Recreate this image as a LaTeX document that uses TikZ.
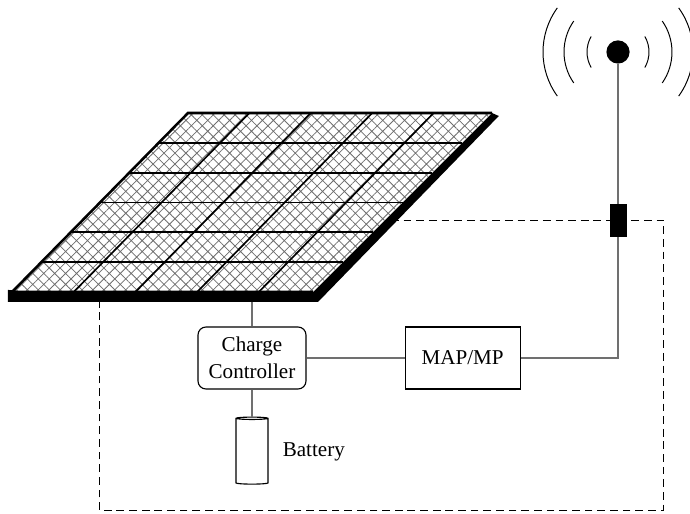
\documentclass[tikz,border=0pt]{standalone}
\usepackage{fontspec}
\setmainfont{Liberation Serif}
\usepackage{tikz}
\usetikzlibrary{positioning, calc, shapes.geometric, patterns.meta}
\definecolor{ink}{HTML}{000000}
\definecolor{wire}{HTML}{707070}
\definecolor{hatchgray}{HTML}{6E6E6E}
\tikzset{
  blockbox/.style={draw=ink, line width=0.8pt, align=center, font=\fontsize{15}{19}\selectfont, minimum height=15.5mm, inner sep=4pt},
  cell/.style={draw=ink, line width=1.2pt},
  link/.style={draw=wire, line width=0.8pt},
  wave/.style={draw=ink, line width=0.7pt},
  boundary/.style={draw=ink, line width=0.6pt, dash pattern=on 5.5pt off 3.5pt},
}

\begin{document}
\begin{tikzpicture}
  \useasboundingbox (0,0) rectangle (17.25,12.85);

  % enclosure, partly hidden by the panel
  \draw[boundary] (2.475,0.10) rectangle (16.575,7.35);

  % solar panel corners
  \coordinate (bl) at (0.30,5.55);
  \coordinate (br) at (7.825,5.55);
  \coordinate (tr) at (12.30,10.025);
  \coordinate (tl) at (4.70,10.025);

  % panel thickness along the front and right edges
  \fill[ink] (0.20,5.60) -- (br) -- (tr) -- (12.47,9.95) -- (7.95,5.30) -- (0.20,5.30) -- cycle;

  % cells
  \fill[white] (bl) -- (br) -- (tr) -- (tl) -- cycle;
  \fill[pattern={Hatch[angle=45, distance=5.5pt, line width=0.55pt]}, pattern color=hatchgray]
    (bl) -- (br) -- (tr) -- (tl) -- cycle;
  \foreach \f in {1,...,5}
    \draw[cell] ($(bl)!\f/6!(tl)$) -- ($(br)!\f/6!(tr)$);
  \foreach \f in {1,...,4}
    \draw[cell] ($(bl)!{0.205*\f}!(br)$) -- ($(tl)!{0.202*\f}!(tr)$);
  \draw[ink, line width=1.8pt] (br) -- (bl) -- (tl) -- (tr);

  % controller, access point and battery
  \node[blockbox, rounded corners=2mm, minimum width=27mm] (ctrl) at (6.30,3.90) {Charge\\Controller};
  \node[blockbox, minimum width=28.75mm, right=24.5mm of ctrl] (map) {MAP/MP};
  \node[cylinder, shape border rotate=90, draw=ink, line width=0.8pt, aspect=0.25,
        minimum width=8mm, minimum height=16.75mm, below=6.75mm of ctrl] (battery) {};
  \node[blockbox, draw=none, right=2mm of battery] (battlabel) {Battery};

  \coordinate (mount) at (6.30,5.30);
  \draw[link] (mount) -- (ctrl);
  \draw[link] (ctrl) -- (battery);
  \draw[link] (ctrl) -- (map);

  % antenna with its feed-through
  \node[fill=ink, minimum width=4.25mm, minimum height=8.25mm, inner sep=0pt] (plug) at (15.45,7.34) {};
  \node[circle, fill=ink, minimum size=5.8mm, inner sep=0pt] (ball) at (15.45,11.55) {};
  \draw[link] (map.east) -| (plug.south);
  \draw[link] (plug) -- (ball);

  % radio waves
  \foreach \r/\a in {0.775/30, 1.35/35, 1.875/36} {
    \draw[wave] ([shift={(180-\a:\r)}]ball.center) arc (180-\a:180+\a:\r);
    \draw[wave] ([shift={(\a:\r)}]ball.center) arc (\a:-\a:\r);
  }
\end{tikzpicture}
\end{document}
